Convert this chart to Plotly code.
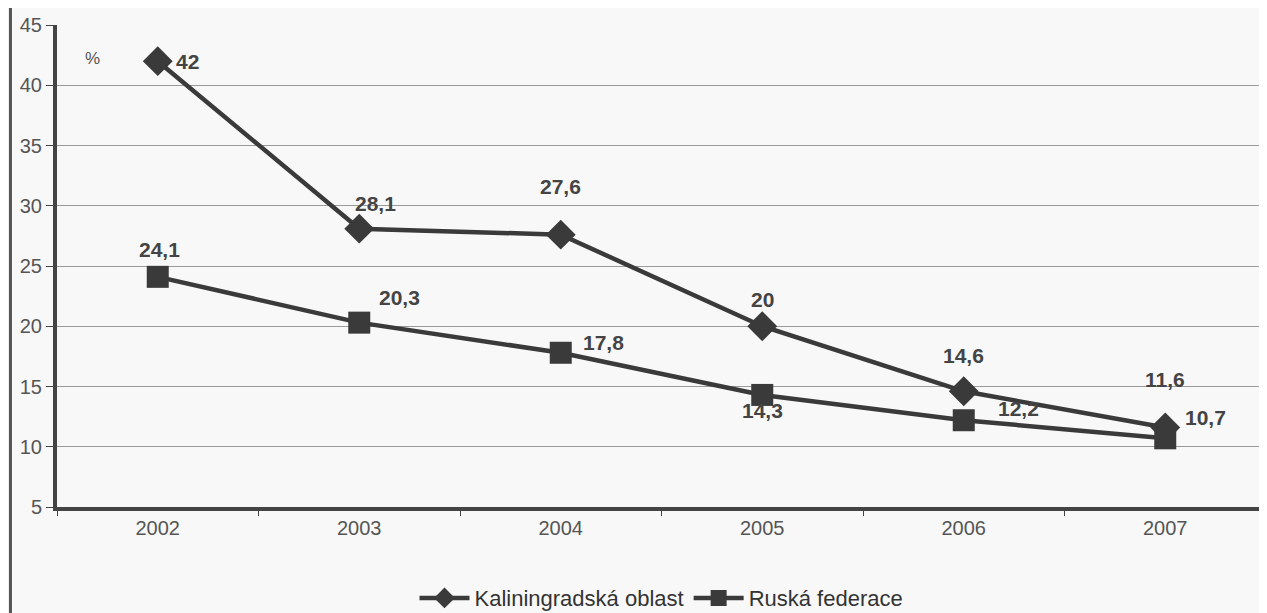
import plotly.graph_objects as go

years = ["2002", "2003", "2004", "2005", "2006", "2007"]
kaliningrad = [42, 28.1, 27.6, 20, 14.6, 11.6]
rusko = [24.1, 20.3, 17.8, 14.3, 12.2, 10.7]
kal_labels = ["42", "28,1", "27,6", "20", "14,6", "11,6"]
rus_labels = ["24,1", "20,3", "17,8", "14,3", "12,2", "10,7"]

# label offsets in pixels (x, y) – placement only
kal_off = [(30, 0), (16, -25), (0, -48), (0, -27), (0, -36), (0, -48)]
rus_off = [(2, -27), (40, -25), (43, -10), (0, 16), (55, -12), (40, -21)]

dark = "#3a3a3a"
font = "Arial, Liberation Sans, sans-serif"

fig = go.Figure()
fig.add_trace(go.Scatter(
    x=years, y=kaliningrad, mode="lines+markers", name="Kaliningradská oblast",
    line=dict(color=dark, width=4.5),
    marker=dict(symbol="diamond", size=23, color=dark),
))
fig.add_trace(go.Scatter(
    x=years, y=rusko, mode="lines+markers", name="Ruská federace",
    line=dict(color=dark, width=4.5),
    marker=dict(symbol="square", size=22, color=dark),
))

for vals, labels, offs in [(kaliningrad, kal_labels, kal_off), (rusko, rus_labels, rus_off)]:
    for i, (y, t, (dx, dy)) in enumerate(zip(vals, labels, offs)):
        fig.add_annotation(x=i, y=y, text=f"<b>{t}</b>", showarrow=False,
                           xshift=dx, yshift=-dy,
                           font=dict(size=21, color="#444", family=font))

fig.add_annotation(x=0.0215, y=0.954, xref="paper", yref="paper", text="%",
                   showarrow=False, font=dict(size=17, color="#555", family=font))

# scan border on the left
fig.add_shape(type="line", xref="paper", yref="paper", x0=-0.0385, x1=-0.0385,
              y0=-0.25, y1=1.1, line=dict(color="#555", width=3))

# page body adds an 8px offset, margins compensate for it
fig.update_layout(
    width=1267, height=613,
    margin=dict(l=49, r=9, t=17, b=114, autoexpand=False),
    paper_bgcolor="#f8f8f8", plot_bgcolor="#f8f8f8",
    font=dict(family=font, color="#555", size=16),
    showlegend=True,
    legend=dict(orientation="h", x=0.5, xanchor="center", y=-0.189, yanchor="middle",
                font=dict(size=22, color="#333"), itemwidth=50, bgcolor="rgba(0,0,0,0)"),
    xaxis=dict(type="category", range=[-0.5, 5.5], showgrid=False,
               showline=True, linecolor="#444", linewidth=4,
               ticks="outside", tickson="boundaries", ticklen=5, tickcolor="#444",
               tickfont=dict(size=20, color="#555")),
    yaxis=dict(range=[5, 45], dtick=5, showgrid=True, gridcolor="#9a9a9a", gridwidth=1,
               showline=True, linecolor="#444", linewidth=4, zeroline=False,
               ticks="outside", ticklen=7, tickcolor="#444",
               tickfont=dict(size=20, color="#555")),
)

fig.write_html("out.html")
